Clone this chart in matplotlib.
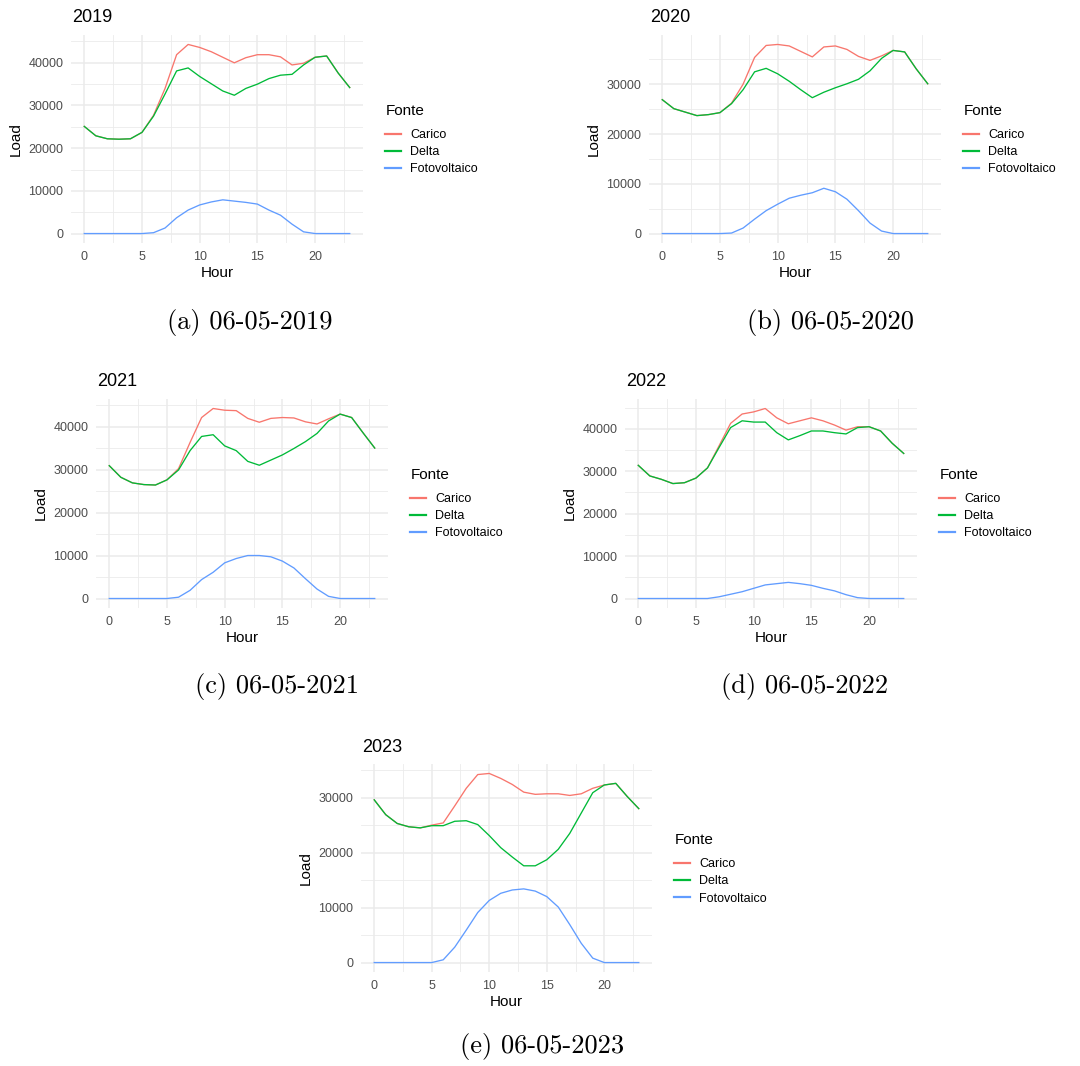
import matplotlib
matplotlib.use("Agg")
import matplotlib.pyplot as plt
from matplotlib.ticker import MultipleLocator, FuncFormatter

plt.rcParams['font.family'] = ['Liberation Sans', 'DejaVu Sans']

hours = list(range(24))
series_names = ["Carico", "Delta", "Fotovoltaico"]
series_colors = ["#F8766D", "#00BA38", "#619CFF"]

carico_2019 = [25100, 22900, 22200, 22100, 22200, 23700, 27700, 34000, 41900, 44300, 43600, 42600,
               41300, 40000, 41200, 41900, 41900, 41400, 39500, 39900, 41300, 41600, 37600, 34200]
delta_2019 = [25100, 22900, 22200, 22100, 22200, 23700, 27500, 32700, 38100, 38800, 36800, 35100,
              33400, 32400, 34000, 35000, 36300, 37100, 37300, 39500, 41300, 41600, 37600, 34200]
pv_2019 = [0, 0, 0, 0, 0, 0, 200, 1300, 3700, 5500, 6700, 7400,
           7900, 7600, 7300, 6900, 5500, 4300, 2200, 400, 0, 0, 0, 0]

carico_2020 = [26900, 25100, 24400, 23700, 23900, 24300, 26200, 30000, 35400, 37800, 38000, 37700,
               36600, 35500, 37500, 37700, 37000, 35600, 34800, 35700, 36800, 36500, 33100, 30100]
delta_2020 = [26900, 25100, 24400, 23700, 23900, 24300, 26100, 28900, 32500, 33200, 32100, 30600,
              28900, 27300, 28400, 29300, 30100, 31000, 32700, 35200, 36800, 36500, 33100, 30100]
pv_2020 = [0, 0, 0, 0, 0, 0, 100, 1100, 2900, 4600, 5900, 7100,
           7700, 8200, 9100, 8400, 6900, 4600, 2100, 500, 0, 0, 0, 0]

carico_2021 = [30900, 28200, 26900, 26500, 26400, 27600, 30200, 36300, 42100, 44200, 43800, 43700,
               41900, 41000, 41900, 42100, 42000, 41100, 40600, 41800, 42900, 42100, 38500, 35000]
delta_2021 = [30900, 28200, 26900, 26500, 26400, 27600, 29900, 34400, 37700, 38100, 35500, 34400,
              31900, 31000, 32200, 33400, 34900, 36500, 38400, 41300, 42900, 42100, 38500, 35000]
pv_2021 = [0, 0, 0, 0, 0, 0, 300, 1900, 4400, 6100, 8300, 9300,
           10000, 10000, 9700, 8700, 7100, 4600, 2200, 500, 0, 0, 0, 0]

carico_2022 = [31400, 28900, 28100, 27100, 27300, 28400, 30800, 36000, 41300, 43500, 44000, 44800,
               42600, 41200, 41900, 42600, 41900, 40900, 39700, 40500, 40500, 39500, 36600, 34200]
delta_2022 = [31400, 28900, 28100, 27100, 27300, 28400, 30800, 35600, 40300, 41900, 41600, 41600,
              39100, 37400, 38400, 39500, 39500, 39100, 38800, 40300, 40500, 39500, 36600, 34200]
pv_2022 = [0, 0, 0, 0, 0, 0, 0, 400, 1000, 1600, 2400, 3200,
           3500, 3800, 3500, 3100, 2400, 1800, 900, 200, 0, 0, 0, 0]

carico_2023 = [29600, 26900, 25300, 24700, 24500, 25000, 25400, 28500, 31700, 34200, 34400, 33500,
               32400, 31000, 30600, 30700, 30700, 30400, 30700, 31700, 32300, 32600, 30200, 28000]
delta_2023 = [29600, 26900, 25300, 24700, 24500, 24900, 24900, 25700, 25800, 25100, 23100, 20900,
              19200, 17600, 17600, 18700, 20600, 23500, 27200, 30900, 32300, 32600, 30200, 28000]
pv_2023 = [0, 0, 0, 0, 0, 0, 500, 2800, 5900, 9100, 11300, 12600,
           13200, 13400, 13000, 12000, 10100, 6900, 3500, 800, 0, 0, 0, 0]

panel_titles = ["2019", "2020", "2021", "2022", "2023"]
captions = ["(a) 06-05-2019", "(b) 06-05-2020", "(c) 06-05-2021", "(d) 06-05-2022", "(e) 06-05-2023"]
legend_title = "Fonte"
x_label = "Hour"
y_label = "Load"
panel_data = [
    (carico_2019, delta_2019, pv_2019),
    (carico_2020, delta_2020, pv_2020),
    (carico_2021, delta_2021, pv_2021),
    (carico_2022, delta_2022, pv_2022),
    (carico_2023, delta_2023, pv_2023),
]

W, H = 1080, 1066
fig = plt.figure(figsize=(W / 100, H / 100), dpi=100)

# panel rectangles in pixels: left, top, right, bottom
rects = [
    (71, 35, 363, 243),
    (649, 35, 941, 243),
    (96, 399, 388, 608),
    (625, 399, 917, 608),
    (361, 764, 652, 972),
]
caption_pos = [(250, 322), (830, 322), (277, 687), (805, 687), (542, 1046)]

GRID = "#EBEBEB"


def fx(x):
    return x / W


def fy(y):
    return 1 - y / H


for i, (rect, title, data) in enumerate(zip(rects, panel_titles, panel_data)):
    l, t, r, b = rect
    ax = fig.add_axes([fx(l), fy(b), (r - l) / W, (b - t) / H])
    handles = []
    for vals, name, col in zip(data, series_names, series_colors):
        ln, = ax.plot(hours, vals, color=col, lw=0.95, label=name, solid_joinstyle='round')
        handles.append(ln)
    allv = [v for s in data for v in s]
    lo, hi = min(allv), max(allv)
    rng = hi - lo
    ax.set_ylim(lo - 0.05 * rng, hi + 0.05 * rng)
    xr = hours[-1] - hours[0]
    ax.set_xlim(hours[0] - 0.05 * xr, hours[-1] + 0.05 * xr)
    ax.xaxis.set_major_locator(MultipleLocator(5))
    ax.xaxis.set_minor_locator(MultipleLocator(2.5))
    ax.yaxis.set_major_locator(MultipleLocator(10000))
    ax.yaxis.set_minor_locator(MultipleLocator(5000))
    ax.grid(which='major', color=GRID, lw=1.1)
    ax.grid(which='minor', color=GRID, lw=0.6)
    ax.set_axisbelow(True)
    for s in ax.spines.values():
        s.set_visible(False)
    ax.tick_params(which='both', length=0)
    ax.tick_params(axis='x', pad=6, labelsize=9, labelcolor='#4D4D4D')
    ax.tick_params(axis='y', pad=5.5, labelsize=9, labelcolor='#4D4D4D')
    ax.yaxis.set_major_formatter(FuncFormatter(lambda v, p: f"{int(round(v))}"))

    fig.text(fx(l + 1), fy(t - 17), title, fontsize=13, ha='left', va='center', color='black')
    fig.text(fx(l - 55), fy((t + b) / 2), y_label, fontsize=11, rotation=90, ha='center', va='center')
    fig.text(fx((l + r) / 2), fy(b + 30), x_label, fontsize=11, ha='center', va='center')

    fig.text(fx(r + 23), fy(t + 76), legend_title, fontsize=11, ha='left', va='center')
    leg = ax.legend(handles=handles, loc='upper left',
                    bbox_to_anchor=(fx(r + 22), fy(t + 94)), bbox_transform=fig.transFigure,
                    frameon=False, fontsize=9, handlelength=1.3,
                    handletextpad=0.7, labelspacing=0.42, borderpad=0, borderaxespad=0)
    for lh in leg.get_lines():
        lh.set_linewidth(1.6)

    cx, cy = caption_pos[i]
    fig.text(fx(cx), fy(cy), captions[i], fontsize=19, family='cmr10', ha='center', va='center')

fig.savefig("out.png", dpi=100)
